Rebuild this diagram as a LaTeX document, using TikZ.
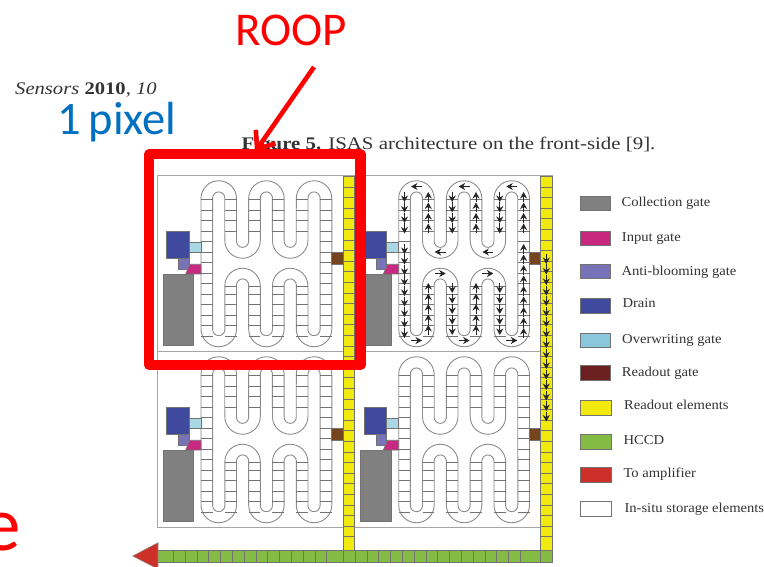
\documentclass[tikz,border=0pt]{standalone}
\usepackage{graphicx}
\usepackage{fontspec}
\setmainfont{Liberation Serif}
\newfontfamily\carlitofont{Carlito}
\usetikzlibrary{arrows.meta}
\definecolor{cCollect}{HTML}{808080}
\definecolor{cInput}{HTML}{C8287F}
\definecolor{cAnti}{HTML}{7872B8}
\definecolor{cDrain}{HTML}{3F4A9E}
\definecolor{cOver}{HTML}{A9D8E4}
\definecolor{cOverL}{HTML}{8AC6DC}
\definecolor{cGate}{HTML}{75451F}
\definecolor{cGateL}{HTML}{6B1F1F}
\definecolor{cYellow}{HTML}{F2EA0E}
\definecolor{cGreen}{HTML}{84BB44}
\definecolor{cAmp}{HTML}{CC3028}
\definecolor{cBlue}{HTML}{0070C0}
\definecolor{cRed}{HTML}{FF0000}
\definecolor{cInk}{HTML}{333333}
\tikzset{
  x=1pt,y=-1pt,
  frameline/.style={draw=black!35,line width=1pt},
  meander/.style={draw=black!45,line width=0.9pt},
  rung/.style={draw=black!55,line width=0.8pt},
  partbox/.style={draw=black!55,line width=0.7pt},
  flow/.style={draw=black!85,line width=0.9pt,-{Stealth[length=6.5pt,width=7pt]}},
  swatch/.style={draw=black!55,line width=0.8pt,minimum width=30.5pt,minimum height=14.5pt,inner sep=0pt,anchor=north west},
  legendtext/.style={anchor=base west,inner sep=0pt,text=cInk,font=\fontsize{13.6}{15}\selectfont},
  callout/.style={draw=cRed,line width=10.3pt,line join=round},
  pointer/.style={draw=cRed,line width=4.6pt,-{Straight Barb[length=15pt,width=24pt,line width=4.6pt]}}
}
\newcommand{\LegendText}[1]{\scalebox{1.075}[1]{#1}}
\newcommand{\StretchText}[1]{\scalebox{1.165}[1]{#1}}
\newcommand{\CaptionText}[1]{\scalebox{1.18}[1]{#1}}
\newcommand{\PixelCell}{%
  \path[meander,fill=white]
    (201,198.5) arc[start angle=180,end angle=360,radius=17.75]
    -- (236.5,241.3) arc[start angle=180,end angle=0,radius=6.07]
    -- (248.65,198.5) arc[start angle=180,end angle=360,radius=17.75]
    -- (284.15,241.3) arc[start angle=180,end angle=0,radius=6.07]
    -- (296.3,198.5) arc[start angle=180,end angle=360,radius=17.75]
    -- (331.8,329) arc[start angle=0,end angle=180,radius=17.75]
    -- (296.3,285) arc[start angle=0,end angle=-180,radius=6.07]
    -- (284.15,329) arc[start angle=0,end angle=180,radius=17.75]
    -- (248.65,285) arc[start angle=0,end angle=-180,radius=6.07]
    -- (236.5,329) arc[start angle=0,end angle=180,radius=17.75]
    -- cycle;
  \path[meander]
    (212.65,198) arc[start angle=180,end angle=360,radius=6.07]
    -- (224.8,240.5) arc[start angle=180,end angle=0,radius=17.75]
    -- (260.3,198) arc[start angle=180,end angle=360,radius=6.07]
    -- (272.45,240.5) arc[start angle=180,end angle=0,radius=17.75]
    -- (307.95,198) arc[start angle=180,end angle=360,radius=6.07]
    -- (320.1,329.6) arc[start angle=0,end angle=180,radius=6.07]
    -- (307.95,286) arc[start angle=0,end angle=-180,radius=17.75]
    -- (272.45,329.6) arc[start angle=0,end angle=180,radius=6.07]
    -- (260.3,286) arc[start angle=0,end angle=-180,radius=17.75]
    -- (224.8,329.6) arc[start angle=0,end angle=180,radius=6.07]
    -- cycle;
  \foreach \yy in {199.7,210.2,...,336.3}{
    \draw[rung] (201,\yy) -- (212.65,\yy);
    \draw[rung] (320.1,\yy) -- (331.8,\yy);
  }
  \foreach \xx in {224.8,248.65,272.45,296.3}{
    \foreach \yy in {199.7,210.2,...,241.0}{\draw[rung] (\xx,\yy) -- ++(11.7,0);}
    \foreach \yy in {286,294.2,304.7,315.2,325.7,336.2}{\draw[rung] (\xx,\yy) -- ++(11.7,0);}
  }
  \draw[partbox,fill=cOver] (189,242.7) rectangle (201,252.7);
  \draw[partbox,fill=cAnti] (178.3,258) rectangle (189,269.7);
  \draw[partbox,fill=cDrain] (166.7,231.3) rectangle (189,258);
  \draw[partbox,fill=cInput] (185.7,274) -- (190,264.3) -- (201,264.3) -- (201,274) -- cycle;
  \draw[partbox,fill=cCollect] (163,274) rectangle (193.7,345.7);
  \draw[partbox,fill=cGate] (331.7,252.7) rectangle (343.3,264);
}
\begin{document}
\begin{tikzpicture}
\useasboundingbox (0,0) rectangle (764,567);
\clip (0,0) rectangle (764,567);
\fill[white] (0,0) rectangle (764,567);

% page text
\node[anchor=base west,inner sep=0pt,text=cInk] (header) at (15,95)
  {\fontsize{17.7}{20}\selectfont\StretchText{\textit{Sensors} \textbf{2010}, \textit{10}}};
\node[anchor=base west,inner sep=0pt,text=cInk] (caption) at (241.5,150)
  {\fontsize{17.7}{20}\selectfont\CaptionText{\textbf{Figure 5.} ISAS architecture on the front-side [9].}};

% frame
\draw[frameline] (157,176) rectangle (552,527);
\draw[frameline] (157,351) -- (552,351);

% cells
\begin{scope}\PixelCell\end{scope}
\begin{scope}[shift={(197.7,0)}]\PixelCell\end{scope}
\begin{scope}[shift={(0,176)}]\PixelCell\end{scope}
\begin{scope}[shift={(197.7,176)}]\PixelCell\end{scope}

% readout columns
\foreach \xx/\xe in {343.3/354.7,540.7/552.3}{
  \draw[partbox,fill=cYellow] (\xx,176) rectangle (\xe,550);
  \foreach \yy in {187,197.6,...,545}{\draw[rung] (\xx,\yy) -- (\xe,\yy);}
}

% HCCD
\draw[partbox,fill=cGreen] (157.7,550) rectangle (552.3,562.7);
\foreach \xx in {173.3,185.1,...,328,343.3,355,367,378.8,...,530,540.7}{
  \draw[rung] (\xx,550) -- (\xx,562.7);
}
\path[draw=black!45,line width=0.6pt,fill=cAmp] (158,542.7) -- (132.7,556) -- (158,569) -- cycle;

% charge flow arrows in the top right cell
\begin{scope}[shift={(197.7,0)}]
  \foreach \xc in {206.8,254.5,302.1}{
    \foreach \yy in {197,207.5,...,238}{\draw[flow] (\xc,\yy-5) -- (\xc,\yy+5);}
  }
  \foreach \xc in {230.6,278.3,325.9}{
    \foreach \yy in {197,207.5,...,238}{\draw[flow] (\xc,\yy+5) -- (\xc,\yy-5);}
  }
  \foreach \yy in {249,259.5,...,335}{
    \draw[flow] (206.8,\yy-5) -- (206.8,\yy+5);
  }
  \foreach \yy in {249,259.5,...,335}{
    \draw[flow] (325.9,\yy+5) -- (325.9,\yy-5);
  }
  \foreach \xc in {230.6,278.3}{
    \foreach \yy in {288,298.5,...,335}{\draw[flow] (\xc,\yy+5) -- (\xc,\yy-5);}
  }
  \foreach \xc in {254.5,302.1}{
    \foreach \yy in {288,298.5,...,335}{\draw[flow] (\xc,\yy-5) -- (\xc,\yy+5);}
  }
  \foreach \xc in {218.8,266.4,314.1}{\draw[flow] (\xc+5.5,186.5) -- (\xc-5.5,186.5);}
  \foreach \xc in {242.5,290.2}{\draw[flow] (\xc+5.5,252) -- (\xc-5.5,252);}
  \foreach \xc in {242.5,290.2}{\draw[flow] (\xc-5.5,273.5) -- (\xc+5.5,273.5);}
  \foreach \xc in {218.8,266.4,314.1}{\draw[flow] (\xc-5.5,340.5) -- (\xc+5.5,340.5);}
\end{scope}
\foreach \yy in {259,269.5,...,425}{\draw[flow] (546.3,\yy-5) -- (546.3,\yy+5);}

% legend
\node[swatch,fill=cCollect] (l1) at (579.5,195.7) {};
\node[swatch,fill=cInput]   (l2) at (579.5,230.7) {};
\node[swatch,fill=cAnti]    (l3) at (579.5,263.8) {};
\node[swatch,fill=cDrain]   (l4) at (579.5,298) {};
\node[swatch,fill=cOverL]   (l5) at (579.5,332.5) {};
\node[swatch,fill=cGateL]   (l6) at (579.5,365.4) {};
\node[swatch,fill=cYellow]  (l7) at (580,400) {};
\node[swatch,fill=cGreen]   (l8) at (580,434.4) {};
\node[swatch,fill=cAmp]     (l9) at (580,467.3) {};
\node[swatch,fill=white]    (l10) at (580,501) {};
\node[legendtext] (t1) at (621.3,206.5) {\LegendText{Collection gate}};
\node[legendtext] (t2) at (621.7,242) {\LegendText{Input gate}};
\node[legendtext] (t3) at (621.3,275.5) {\LegendText{Anti-blooming gate}};
\node[legendtext] (t4) at (622.3,308) {\LegendText{Drain}};
\node[legendtext] (t5) at (622,343.5) {\LegendText{Overwriting gate}};
\node[legendtext] (t6) at (621.7,376.5) {\LegendText{Readout gate}};
\node[legendtext] (t7) at (624,409.5) {\LegendText{Readout elements}};
\node[legendtext] (t8) at (623.3,444.5) {\LegendText{HCCD}};
\node[legendtext] (t9) at (623.3,477.5) {\LegendText{To amplifier}};
\node[legendtext] (t10) at (624.3,512) {\LegendText{In-situ storage elements}};

% overlay
\draw[callout] (149.2,154.2) rectangle (360.5,365);
\coordinate (ptrstart) at (314,67);
\coordinate (ptrend) at (255,152);
\draw[pointer] (ptrstart) -- (ptrend);
\node[anchor=base west,inner sep=0pt,text=cRed] (roop) at (235,45.5)
  {\carlitofont\fontsize{47}{50}\selectfont ROOP};
\node[anchor=base west,inner sep=0pt,text=cBlue] (pix) at (57,135)
  {\carlitofont\fontsize{46.5}{50}\selectfont 1\kern8pt pixel};
\node[anchor=base west,inner sep=0pt,text=cRed] (cut) at (-18,550)
  {\carlitofont\fontsize{77}{80}\selectfont e};
\end{tikzpicture}
\end{document}
